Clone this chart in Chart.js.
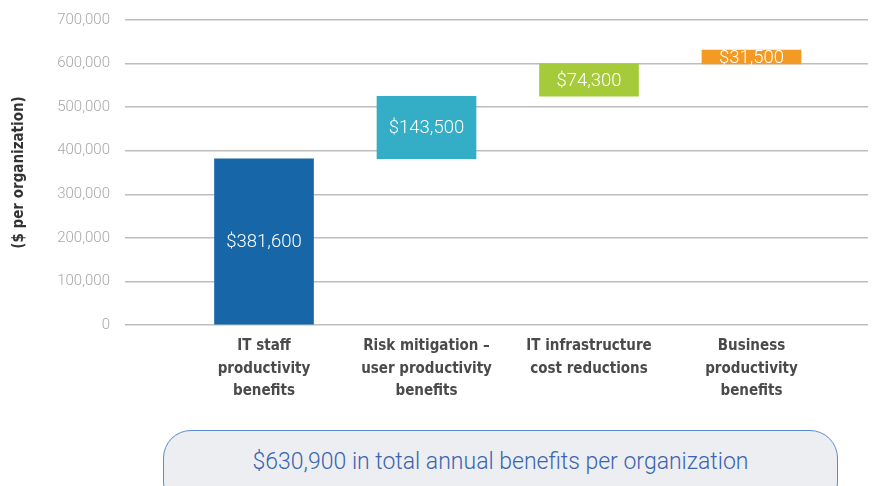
<!DOCTYPE html>
<html>
<head>
<meta charset="utf-8">
<script src="https://cdn.jsdelivr.net/npm/chart.js@4"></script>
<style>
  html, body { margin: 0; padding: 0; background: #fff; overflow: hidden; }
  #wrap { position: relative; width: 874px; height: 486px; overflow: hidden; }
  #chart { position: absolute; left: 0; top: -4px; }
  #total {
    position: absolute; left: 163px; top: 430px; width: 675px; height: 80px;
    box-sizing: border-box; border: 1.5px solid #5b8bd0; border-radius: 28px;
    background: #eceef1; color: #3a64b0;
    font: 300 23px Roboto, "Liberation Sans", sans-serif;
    text-align: center; padding-top: 17px;
  }
</style>
</head>
<body>
<div id="wrap">
  <canvas id="chart" width="874" height="486"></canvas>
  <div id="total">$630,900 in total annual benefits per organization</div>
</div>
<script>
// waterfall data
const categories = [
  ['IT staff', 'productivity', 'benefits'],
  ['Risk mitigation \u2013', 'user productivity', 'benefits'],
  ['IT infrastructure', 'cost reductions'],
  ['Business', 'productivity', 'benefits']
];
const benefits = [381600, 143500, 74300, 31500];
const barColors = ['#1766a8', '#33aec6', '#a5cb3a', '#f39a25'];
const yTicks = [0, 100000, 200000, 300000, 400000, 500000, 600000, 700000];

// build floating bars from running total
let running = 0;
const bars = benefits.map((v, i) => {
  const d = { x: i + 1, y: [running, running + v] };
  running += v;
  return d;
});

const fmt = v => v.toLocaleString('en-US');

// value labels inside the bars
const barLabels = {
  id: 'barLabels',
  afterDatasetsDraw(chart) {
    const ctx = chart.ctx;
    const meta = chart.getDatasetMeta(0);
    ctx.save();
    ctx.fillStyle = '#ffffff';
    ctx.font = '300 18.5px Roboto, "Liberation Sans", sans-serif';
    ctx.textAlign = 'center';
    ctx.textBaseline = 'middle';
    meta.data.forEach((bar, i) => {
      const p = bar.getProps(['x', 'y', 'base'], true);
      ctx.fillText('$' + fmt(benefits[i]), p.x, (p.y + p.base) / 2 + 1);
    });
    ctx.restore();
  }
};

new Chart(document.getElementById('chart'), {
  type: 'bar',
  data: {
    datasets: [{
      data: bars,
      backgroundColor: barColors,
      borderWidth: 0,
      barThickness: 99
    }]
  },
  options: {
    responsive: false,
    animation: false,
    parsing: { xAxisKey: 'x', yAxisKey: 'y' },
    layout: { padding: { top: 2, right: 6, bottom: 77, left: 0 } },
    plugins: { legend: { display: false }, tooltip: { enabled: false } },
    scales: {
      x: {
        type: 'linear',
        offset: false,
        min: 0.1446,
        max: 4.7169,
        grid: { display: false },
        border: { display: false },
        afterBuildTicks: s => { s.ticks = categories.map((c, i) => ({ value: i + 1 })); },
        afterFit: s => { s.height = 80; },
        ticks: {
          autoSkip: false,
          maxRotation: 0,
          padding: 2,
          color: '#4a4a4a',
          font: { family: '"DejaVu Sans Condensed", "Liberation Sans", sans-serif', size: 15, weight: 'bold', lineHeight: 1.5 },
          callback: v => categories[Math.round(v) - 1] || ''
        }
      },
      y: {
        min: 0,
        max: 700000,
        afterBuildTicks: s => { s.ticks = yTicks.map(v => ({ value: v })); },
        afterFit: s => { s.width = 125; },
        grid: { color: '#bdbdbd', lineWidth: 1.5, drawTicks: false },
        border: { display: false },
        ticks: {
          padding: 15,
          color: '#a8a8a8',
          font: { family: 'Roboto, "Liberation Sans", sans-serif', size: 15, weight: 300 },
          callback: v => fmt(v)
        },
        title: {
          display: true,
          text: '($ per organization)',
          color: '#333',
          padding: { top: 10, bottom: 0 },
          font: { family: '"DejaVu Sans Condensed", "Liberation Sans", sans-serif', size: 15, weight: 'bold' }
        }
      }
    }
  },
  plugins: [barLabels]
});
</script>
</body>
</html>
